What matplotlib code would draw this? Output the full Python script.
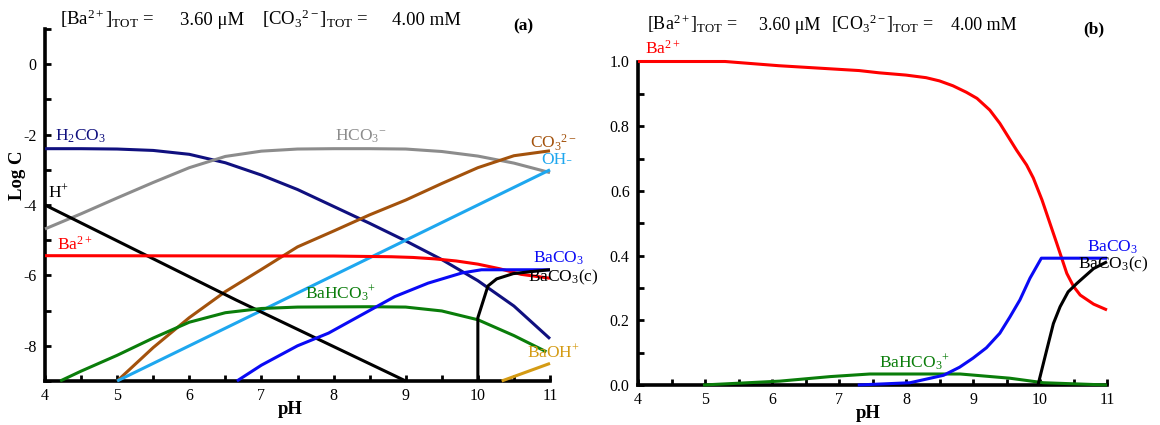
import matplotlib
matplotlib.use("Agg")
import matplotlib.pyplot as plt
from matplotlib.ticker import MultipleLocator, FormatStrFormatter

plt.rcParams['font.family'] = ['Liberation Serif', 'DejaVu Serif']
plt.rcParams['mathtext.fontset'] = 'custom'
plt.rcParams['mathtext.rm'] = 'Liberation Serif'
plt.rcParams['mathtext.it'] = 'Liberation Serif:italic'
plt.rcParams['mathtext.bf'] = 'Liberation Serif:bold'
plt.rcParams['axes.unicode_minus'] = False

# ---------------- Panel (a): log C vs pH ----------------
ph_h2co3 = [4, 4.5, 5, 5.5, 6, 6.5, 7, 7.5, 8, 8.5, 9, 9.5, 10, 10.5, 11]
log_h2co3 = [-2.40, -2.40, -2.41, -2.45, -2.56, -2.80, -3.15, -3.56, -4.04, -4.52, -5.02, -5.55, -6.15, -6.87, -7.80]

ph_hco3 = [4, 4.5, 5, 5.5, 6, 6.5, 7, 7.5, 8, 8.5, 9, 9.5, 10, 10.5, 11]
log_hco3 = [-4.68, -4.25, -3.80, -3.36, -2.94, -2.62, -2.47, -2.41, -2.40, -2.40, -2.41, -2.48, -2.61, -2.81, -3.08]

ph_co3 = [5, 5.5, 6, 6.5, 7, 7.5, 8, 8.5, 9, 9.5, 10, 10.5, 11]
log_co3 = [-9.0, -8.05, -7.20, -6.46, -5.83, -5.19, -4.74, -4.28, -3.86, -3.39, -2.94, -2.60, -2.46]

ph_h = [4, 6.65, 9]
log_h = [-4.0, -6.70, -9.0]

ph_oh = [5, 8, 11]
log_oh = [-9.0, -6.0, -3.0]

ph_ba = [4, 8.0, 8.8, 9.1, 9.4, 9.7, 10.0, 10.3, 10.6, 11]
log_ba = [-5.44, -5.45, -5.47, -5.49, -5.53, -5.59, -5.68, -5.81, -5.97, -6.08]

ph_baco3 = [6.66, 7.0, 7.5, 7.93, 8.39, 8.85, 9.31, 9.78, 10.05, 11]
log_baco3 = [-9.0, -8.55, -8.0, -7.64, -7.12, -6.60, -6.22, -5.93, -5.84, -5.84]

ph_baco3c = [10.0, 10.0, 10.14, 10.26, 10.49, 10.75, 11]
log_baco3c = [-9.0, -7.2, -6.3, -6.1, -5.95, -5.89, -5.84]

ph_bahco3 = [4.21, 4.5, 5.0, 5.5, 6.0, 6.5, 7.0, 7.5, 8.5, 9.0, 9.5, 10.0, 10.5, 10.95]
log_bahco3 = [-9.0, -8.72, -8.27, -7.78, -7.33, -7.06, -6.94, -6.90, -6.89, -6.90, -7.01, -7.26, -7.71, -8.17]

ph_baoh = [10.33, 11]
log_baoh = [-9.0, -8.5]

# ---------------- Panel (b): fractions vs pH ----------------
ph_ba_f = [4, 5.3, 6.1, 7.3, 7.6, 8.0, 8.3, 8.5, 8.7, 8.9, 9.06, 9.25, 9.4, 9.65, 9.8, 9.9, 10.03, 10.25, 10.4, 10.5, 10.6, 10.8, 11]
f_ba = [1.0, 1.0, 0.987, 0.972, 0.965, 0.958, 0.950, 0.940, 0.925, 0.905, 0.886, 0.85, 0.809, 0.726, 0.68, 0.640, 0.572, 0.438, 0.345, 0.305, 0.278, 0.250, 0.232]

ph_baco3_f = [7.28, 8.06, 8.56, 8.8, 9.0, 9.2, 9.4, 9.55, 9.7, 9.85, 10.02, 11]
f_baco3 = [0.0, 0.007, 0.03, 0.055, 0.083, 0.115, 0.16, 0.21, 0.263, 0.33, 0.392, 0.392]

ph_baco3c_f = [9.97, 10.1, 10.2, 10.3, 10.42, 10.55, 10.8, 11.0]
f_baco3c = [0.0, 0.108, 0.19, 0.242, 0.288, 0.314, 0.36, 0.381]

ph_bahco3_f = [4.97, 6.12, 6.87, 7.46, 8.81, 9.55, 10.05, 11]
f_bahco3 = [0.0, 0.012, 0.026, 0.034, 0.034, 0.021, 0.007, 0.0]

header_parts = [r"[Ba$^{2+}$]$_{\mathrm{TOT}}$ =", "3.60 μM",
                r"[CO$_3$$^{2-}$]$_{\mathrm{TOT}}$ =", "4.00 mM"]

C_NAVY = "#10107f"
C_GRAY = "#8c8c8c"
C_BROWN = "#a3520c"
C_LBLUE = "#1ea7ef"
C_RED = "#ff0000"
C_BLUE = "#0a0af5"
C_GREEN = "#0a7d0a"
C_BLACK = "#000000"
C_GOLD = "#d49b14"

W, H = 1160, 425
fig = plt.figure(figsize=(W / 100, H / 100), dpi=100)

def box(x0, x1, ytop, ybot):
    return [x0 / W, 1 - ybot / H, (x1 - x0) / W, (ybot - ytop) / H]

LW = 2.2
TFS = 11.5
LFS = 12.5

def style(ax, xminor, ymajor, yminor):
    for s in ['top', 'right']:
        ax.spines[s].set_visible(False)
    for s in ['left', 'bottom']:
        ax.spines[s].set_linewidth(2.6)
        ax.spines[s].set_zorder(2)
    ax.xaxis.set_major_locator(MultipleLocator(1))
    ax.xaxis.set_minor_locator(MultipleLocator(xminor))
    ax.yaxis.set_major_locator(MultipleLocator(ymajor))
    ax.yaxis.set_minor_locator(MultipleLocator(yminor))
    ax.tick_params(which='both', direction='in', length=4.5, width=2, labelsize=TFS)
    ax.tick_params(axis='x', pad=5)
    ax.tick_params(axis='y', pad=6)

# ---- (a)
ax1 = fig.add_axes(box(45, 550, 29, 381))
series_a = [
    (ph_h2co3, log_h2co3, C_NAVY),
    (ph_hco3, log_hco3, C_GRAY),
    (ph_co3, log_co3, C_BROWN),
    (ph_oh, log_oh, C_LBLUE),
    (ph_h, log_h, C_BLACK),
    (ph_ba, log_ba, C_RED),
    (ph_bahco3, log_bahco3, C_GREEN),
    (ph_baco3, log_baco3, C_BLUE),
    (ph_baco3c, log_baco3c, C_BLACK),
    (ph_baoh, log_baoh, C_GOLD),
]
for x, y, c in series_a:
    ax1.plot(x, y, color=c, lw=LW, zorder=3, clip_on=False, solid_capstyle='butt')
ax1.set_xlim(4, 11)
ax1.set_ylim(-9, 1)
style(ax1, 0.5, 2, 1)
ax1.set_ylabel("Log C", fontsize=13.5, fontweight='bold', va='center')
ax1.yaxis.set_label_coords((17 - 45) / 505, (381 - 175) / 352)
ax1.set_xlabel("pH", fontsize=13.5, fontweight='bold', va='center')
ax1.xaxis.set_label_coords((290 - 45) / 505, -(409 - 381) / 352)

labels_a = [
    (4.14, -2.18, r"H$_2$CO$_3$", C_NAVY),
    (4.04, -3.78, r"H$^{+}$", C_BLACK),
    (4.16, -5.26, r"Ba$^{2+}$", C_RED),
    (8.02, -2.18, r"HCO$_3$$^{-}$", C_GRAY),
    (10.72, -2.40, r"CO$_3$$^{2-}$", C_BROWN),
    (10.88, -2.84, "OH-", C_LBLUE),
    (10.77, -5.63, r"BaCO$_3$", C_BLUE),
    (10.70, -6.16, r"BaCO$_3$(c)", C_BLACK),
    (7.60, -6.68, r"BaHCO$_3$$^{+}$", C_GREEN),
    (10.68, -8.33, r"BaOH$^{+}$", C_GOLD),
]
for x, y, s, c in labels_a:
    ax1.text(x, y, s, color=c, fontsize=LFS, ha='left', va='baseline', zorder=5, clip_on=False)

for xp, s in zip([60, 180, 262, 392], header_parts):
    fig.text(xp / W, 1 - 25 / H, s, fontsize=13.5, ha='left', va='baseline')
fig.text(513 / W, 1 - 30 / H, "(a)", fontsize=12.5, fontweight='bold', ha='left', va='baseline')

# ---- (b)
ax2 = fig.add_axes(box(638, 1107, 61.5, 385))
series_b = [
    (ph_ba_f, f_ba, C_RED),
    (ph_bahco3_f, f_bahco3, C_GREEN),
    (ph_baco3_f, f_baco3, C_BLUE),
    (ph_baco3c_f, f_baco3c, C_BLACK),
]
for x, y, c in series_b:
    ax2.plot(x, y, color=c, lw=LW, zorder=3, clip_on=False, solid_capstyle='butt')
ax2.set_xlim(4, 11)
ax2.set_ylim(0, 1.0)
style(ax2, 0.5, 0.2, 0.1)
ax2.yaxis.set_major_formatter(FormatStrFormatter('%.1f'))
ax2.set_xlabel("pH", fontsize=13.5, fontweight='bold', va='center')
ax2.xaxis.set_label_coords((868 - 638) / 469, -(414 - 385) / 323.5)

labels_b = [
    (4.10, 1.025, r"Ba$^{2+}$", C_RED),
    (10.70, 0.412, r"BaCO$_3$", C_BLUE),
    (10.57, 0.361, r"BaCO$_3$(c)", C_BLACK),
    (7.59, 0.052, r"BaHCO$_3$$^{+}$", C_GREEN),
]
for x, y, s, c in labels_b:
    ax2.text(x, y, s, color=c, fontsize=LFS, ha='left', va='baseline', zorder=5, clip_on=False)

for xp, s in zip([647, 759, 831, 951], header_parts):
    fig.text(xp / W, 1 - 30 / H, s, fontsize=13, ha='left', va='baseline')
fig.text(1083 / W, 1 - 33 / H, "(b)", fontsize=12.5, fontweight='bold', ha='left', va='baseline')

fig.savefig("out.png", dpi=100)
